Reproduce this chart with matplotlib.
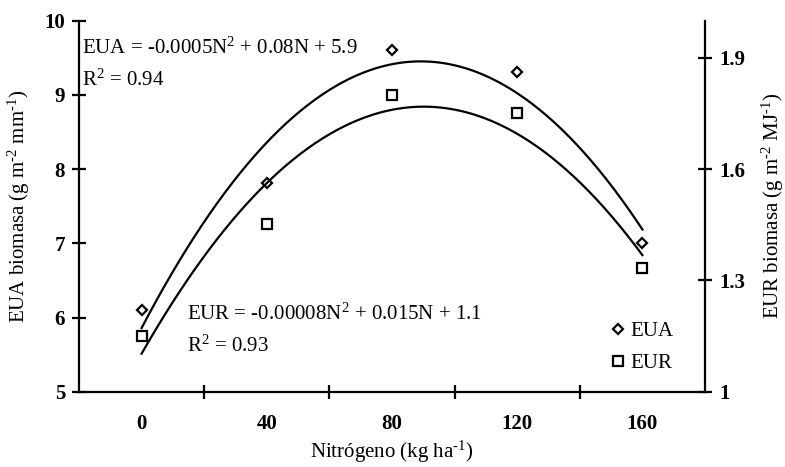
import numpy as np
import matplotlib
matplotlib.use("Agg")
import matplotlib.pyplot as plt
from matplotlib.ticker import FixedLocator, NullFormatter, FixedFormatter

plt.rcParams['font.family'] = ['Liberation Serif', 'DejaVu Serif']
plt.rcParams['mathtext.fontset'] = 'custom'
plt.rcParams['mathtext.rm'] = 'Liberation Serif'
plt.rcParams['mathtext.it'] = 'Liberation Serif:italic'
plt.rcParams['mathtext.bf'] = 'Liberation Serif:bold'

# Nitrogen doses (kg/ha)
nitrogen = [0, 40, 80, 120, 160]
# Water use efficiency for biomass (g m-2 mm-1), left axis
eua = [6.10, 7.81, 9.61, 9.31, 7.01]
# Radiation use efficiency for biomass (g m-2 MJ-1), right axis
eur = [1.151, 1.452, 1.800, 1.752, 1.333]

x_labels = ['0', '40', '80', '120', '160']
left_ticks = [5, 6, 7, 8, 9, 10]
right_ticks = [1, 1.3, 1.6, 1.9]
right_tick_labels = ['1', '1.3', '1.6', '1.9']

FS = 15
LW = 1.6
HY = '\u2010'  # typographic hyphen for exponents

fig = plt.figure(figsize=(7.85, 4.67), dpi=100)
ax = fig.add_axes([79 / 785, 1 - 391.7 / 467, (705 - 79) / 785, (391.7 - 20.7) / 467])
ax2 = ax.twinx()

# quadratic regressions
n_fine = np.linspace(0, 160, 200)
c_eua = np.polyfit(nitrogen, eua, 2)
c_eur = np.polyfit(nitrogen, eur, 2)

ax.plot(n_fine, np.polyval(c_eua, n_fine), color='black', lw=LW, zorder=2)
ax2.plot(n_fine, np.polyval(c_eur, n_fine), color='black', lw=LW, zorder=2)

h1, = ax.plot(nitrogen, eua, linestyle='none', marker='D', ms=5, mfc='white',
              mec='black', mew=1.6, label='EUA', zorder=3)
h2, = ax2.plot(nitrogen, eur, linestyle='none', marker='s', ms=7.5, mfc='white',
               mec='black', mew=1.6, label='EUR', zorder=3)

ax.set_xlim(-20, 180)
ax.set_ylim(5, 10)
ax2.set_ylim(1, 2)

for a in (ax, ax2):
    a.spines['top'].set_visible(False)
    a.patch.set_visible(False)
ax2.spines['left'].set_visible(False)
ax2.spines['bottom'].set_visible(False)
ax.spines['right'].set_visible(False)
for s in ('left', 'bottom'):
    ax.spines[s].set_linewidth(LW)
ax2.spines['right'].set_linewidth(LW)

# x axis: ticks between categories, labels at the doses
ax.xaxis.set_major_locator(FixedLocator([20, 60, 100, 140]))
ax.xaxis.set_major_formatter(NullFormatter())
ax.xaxis.set_minor_locator(FixedLocator(nitrogen))
ax.xaxis.set_minor_formatter(FixedFormatter(x_labels))
ax.tick_params(axis='x', which='major', direction='inout', length=10, width=LW)
ax.tick_params(axis='x', which='minor', length=0, pad=16, labelsize=FS)

ax.set_yticks(left_ticks)
ax.tick_params(axis='y', direction='inout', length=10, width=LW, pad=5, labelsize=FS)
ax2.set_yticks(right_ticks)
ax2.set_yticklabels(right_tick_labels)
ax2.tick_params(axis='y', direction='inout', length=10, width=LW, pad=5, labelsize=FS)

for lab in ax.get_xticklabels(minor=True) + ax.get_yticklabels() + ax2.get_yticklabels():
    lab.set_fontweight('bold')

# axis titles
fig.text(19 / 785, 1 - 206 / 467, f'EUA biomasa (g m$^{{{HY}2}}$ mm$^{{{HY}1}}$)', rotation=90,
         ha='center', va='center', fontsize=FS)
fig.text(773 / 785, 1 - 206 / 467, f'EUR biomasa (g m$^{{{HY}2}}$ MJ$^{{{HY}1}}$)', rotation=90,
         ha='center', va='center', fontsize=FS)
fig.text(392 / 785, 1 - 452 / 467, f'Nitrógeno (kg ha$^{{{HY}1}}$)', ha='center', va='center',
         fontsize=FS)

# regression equations
ax.text(-19.0, 9.56, 'EUA = -0.0005N$^{2}$ + 0.08N + 5.9', fontsize=FS, va='baseline')
ax.text(-19.0, 9.12, 'R$^{2}$ = 0.94', fontsize=FS, va='baseline')
ax.text(14.6, 5.966, 'EUR = -0.00008N$^{2}$ + 0.015N + 1.1', fontsize=FS, va='baseline')
ax.text(14.6, 5.54, 'R$^{2}$ = 0.93', fontsize=FS, va='baseline')

ax2.legend(handles=[h1, h2], loc='upper left', bbox_to_anchor=(0.838, 0.212),
           frameon=False, fontsize=FS, handlelength=0.6, handletextpad=0.3,
           labelspacing=0.6, borderaxespad=0)

fig.savefig('out.png', dpi=100)
